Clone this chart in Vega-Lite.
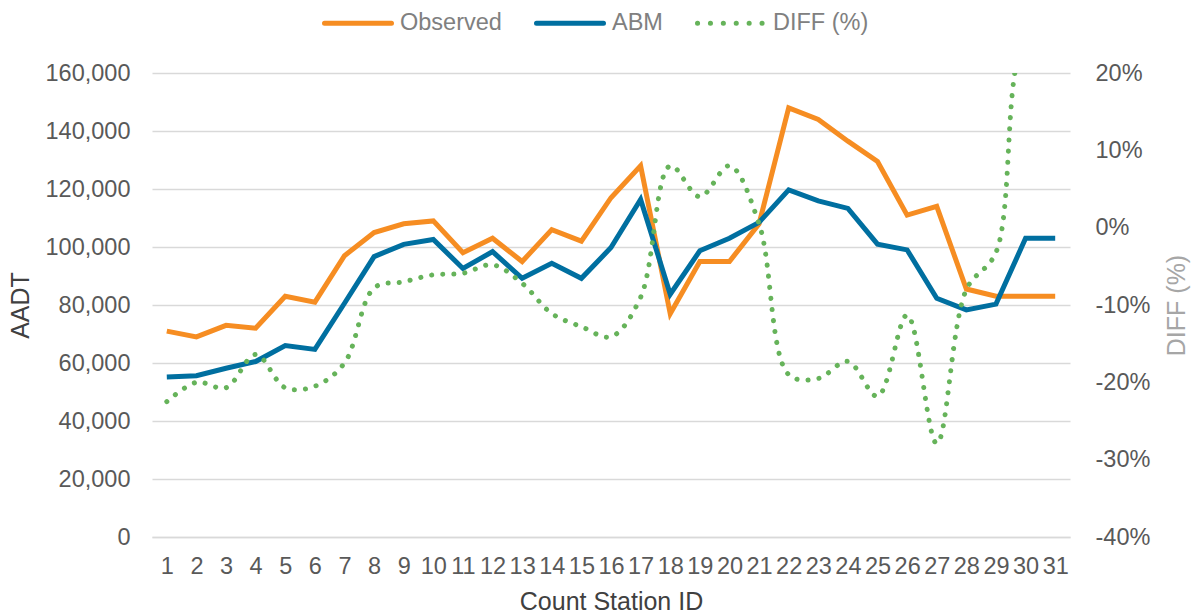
{
  "$schema": "https://vega.github.io/schema/vega-lite/v6.json",
  "width": 918,
  "height": 464,
  "autosize": {"type": "none"},
  "padding": {"left": 152, "top": 73, "right": 125, "bottom": 79},
  "background": "white",
  "config": {
    "view": {"stroke": null},
    "font": "Liberation Sans",
    "axis": {"labelFont": "Liberation Sans", "titleFont": "Liberation Sans", "labelFontSize": 23.5, "titleFontSize": 25, "titleFontWeight": "normal", "labelColor": "#595959", "titleColor": "#404040"}
  },
  "datasets": {
    "counts": [
      {"station": 1, "series": "Observed", "value": 71000},
      {"station": 2, "series": "Observed", "value": 69000},
      {"station": 3, "series": "Observed", "value": 73000},
      {"station": 4, "series": "Observed", "value": 72000},
      {"station": 5, "series": "Observed", "value": 83000},
      {"station": 6, "series": "Observed", "value": 81000},
      {"station": 7, "series": "Observed", "value": 97000},
      {"station": 8, "series": "Observed", "value": 105000},
      {"station": 9, "series": "Observed", "value": 108000},
      {"station": 10, "series": "Observed", "value": 109000},
      {"station": 11, "series": "Observed", "value": 98000},
      {"station": 12, "series": "Observed", "value": 103000},
      {"station": 13, "series": "Observed", "value": 95000},
      {"station": 14, "series": "Observed", "value": 106000},
      {"station": 15, "series": "Observed", "value": 102000},
      {"station": 16, "series": "Observed", "value": 117000},
      {"station": 17, "series": "Observed", "value": 128000},
      {"station": 18, "series": "Observed", "value": 77000},
      {"station": 19, "series": "Observed", "value": 95000},
      {"station": 20, "series": "Observed", "value": 95000},
      {"station": 21, "series": "Observed", "value": 108000},
      {"station": 22, "series": "Observed", "value": 148000},
      {"station": 23, "series": "Observed", "value": 144000},
      {"station": 24, "series": "Observed", "value": 136500},
      {"station": 25, "series": "Observed", "value": 129500},
      {"station": 26, "series": "Observed", "value": 111000},
      {"station": 27, "series": "Observed", "value": 114000},
      {"station": 28, "series": "Observed", "value": 85500},
      {"station": 29, "series": "Observed", "value": 83000},
      {"station": 30, "series": "Observed", "value": 83000},
      {"station": 31, "series": "Observed", "value": 83000},
      {"station": 1, "series": "ABM", "value": 55200},
      {"station": 2, "series": "ABM", "value": 55600},
      {"station": 3, "series": "ABM", "value": 58200},
      {"station": 4, "series": "ABM", "value": 60500},
      {"station": 5, "series": "ABM", "value": 66000},
      {"station": 6, "series": "ABM", "value": 64700},
      {"station": 7, "series": "ABM", "value": 80600},
      {"station": 8, "series": "ABM", "value": 96700},
      {"station": 9, "series": "ABM", "value": 100900},
      {"station": 10, "series": "ABM", "value": 102600},
      {"station": 11, "series": "ABM", "value": 92600},
      {"station": 12, "series": "ABM", "value": 98400},
      {"station": 13, "series": "ABM", "value": 89200},
      {"station": 14, "series": "ABM", "value": 94400},
      {"station": 15, "series": "ABM", "value": 89200},
      {"station": 16, "series": "ABM", "value": 99800},
      {"station": 17, "series": "ABM", "value": 116400},
      {"station": 18, "series": "ABM", "value": 83700},
      {"station": 19, "series": "ABM", "value": 98700},
      {"station": 20, "series": "ABM", "value": 103000},
      {"station": 21, "series": "ABM", "value": 108500},
      {"station": 22, "series": "ABM", "value": 119700},
      {"station": 23, "series": "ABM", "value": 115900},
      {"station": 24, "series": "ABM", "value": 113300},
      {"station": 25, "series": "ABM", "value": 101000},
      {"station": 26, "series": "ABM", "value": 99000},
      {"station": 27, "series": "ABM", "value": 82300},
      {"station": 28, "series": "ABM", "value": 78300},
      {"station": 29, "series": "ABM", "value": 80300},
      {"station": 30, "series": "ABM", "value": 103000},
      {"station": 31, "series": "ABM", "value": 103000}
    ],
    "diff": [
      {"station": 1, "series": "DIFF (%)", "pct": -22.5},
      {"station": 2, "series": "DIFF (%)", "pct": -20},
      {"station": 3, "series": "DIFF (%)", "pct": -20.7},
      {"station": 4, "series": "DIFF (%)", "pct": -16.4},
      {"station": 5, "series": "DIFF (%)", "pct": -20.7},
      {"station": 6, "series": "DIFF (%)", "pct": -20.5},
      {"station": 7, "series": "DIFF (%)", "pct": -17.5},
      {"station": 8, "series": "DIFF (%)", "pct": -7.8},
      {"station": 9, "series": "DIFF (%)", "pct": -7},
      {"station": 10, "series": "DIFF (%)", "pct": -6.1},
      {"station": 11, "series": "DIFF (%)", "pct": -5.9},
      {"station": 12, "series": "DIFF (%)", "pct": -4.8},
      {"station": 13, "series": "DIFF (%)", "pct": -7.2},
      {"station": 14, "series": "DIFF (%)", "pct": -11.1},
      {"station": 15, "series": "DIFF (%)", "pct": -12.8},
      {"station": 16, "series": "DIFF (%)", "pct": -14.1},
      {"station": 17, "series": "DIFF (%)", "pct": -9},
      {"station": 18, "series": "DIFF (%)", "pct": 8},
      {"station": 19, "series": "DIFF (%)", "pct": 4},
      {"station": 20, "series": "DIFF (%)", "pct": 8},
      {"station": 21, "series": "DIFF (%)", "pct": 0.5},
      {"station": 22, "series": "DIFF (%)", "pct": -19},
      {"station": 23, "series": "DIFF (%)", "pct": -19.5},
      {"station": 24, "series": "DIFF (%)", "pct": -17.3},
      {"station": 25, "series": "DIFF (%)", "pct": -21.8},
      {"station": 26, "series": "DIFF (%)", "pct": -11.3},
      {"station": 27, "series": "DIFF (%)", "pct": -27.9},
      {"station": 28, "series": "DIFF (%)", "pct": -8},
      {"station": 29, "series": "DIFF (%)", "pct": -3.2},
      {"station": 30, "series": "DIFF (%)", "pct": 24},
      {"station": 31, "series": "DIFF (%)", "pct": 24}
    ]
  },
  "encoding": {
    "x": {
      "field": "station", "type": "ordinal",
      "scale": {"type": "point", "padding": 0.5},
      "axis": {"title": "Count Station ID", "labelAngle": 0, "ticks": false, "domain": true, "domainColor": "#D9D9D9", "domainWidth": 1.5, "labelPadding": 17, "titlePadding": 12, "labelOverlap": false}
    },
    "color": {
      "field": "series", "type": "nominal",
      "scale": {"domain": ["Observed", "ABM", "DIFF (%)"], "range": ["#F68D22", "#006FA0", "#66B35A"]},
      "legend": {
        "title": null, "orient": "none", "direction": "horizontal",
        "legendX": 170, "legendY": -86,
        "symbolType": "stroke", "symbolSize": 4489, "symbolStrokeWidth": 5,
        "labelFontSize": 23.5, "labelColor": "#808080", "labelFont": "Liberation Sans",
        "labelOffset": 6, "columnPadding": 24,
        "encode": {"symbols": {"update": {"strokeCap": {"value": "round"}, "strokeDash": {"signal": "datum.label === 'DIFF (%)' ? [0.1, 12.8] : [1, 0]"}}}}
      }
    }
  },
  "layer": [
    {
      "data": {"name": "counts"},
      "mark": {"type": "line", "strokeWidth": 5, "clip": true},
      "encoding": {
        "y": {
          "field": "value", "type": "quantitative",
          "scale": {"domain": [0, 160000]},
          "axis": {"title": "AADT", "values": [0, 20000, 40000, 60000, 80000, 100000, 120000, 140000, 160000], "format": ",.0f", "grid": true, "gridColor": "#D9D9D9", "gridWidth": 1.5, "domain": false, "ticks": false, "labelPadding": 22, "titlePadding": 12}
        }
      }
    },
    {
      "data": {"name": "diff"},
      "mark": {"type": "line", "strokeWidth": 5, "strokeCap": "round", "strokeDash": [0.1, 11], "interpolate": "catmull-rom", "clip": true},
      "encoding": {
        "y": {
          "field": "pct", "type": "quantitative",
          "scale": {"domain": [-40, 20]},
          "axis": {"orient": "right", "title": "DIFF (%)", "titleColor": "#A6A6A6", "titleAngle": 270, "values": [-40, -30, -20, -10, 0, 10, 20], "labelExpr": "datum.value + '%'", "grid": false, "domain": false, "ticks": false, "labelPadding": 25, "titlePadding": 40}
        }
      }
    }
  ],
  "resolve": {"scale": {"y": "independent"}}
}
